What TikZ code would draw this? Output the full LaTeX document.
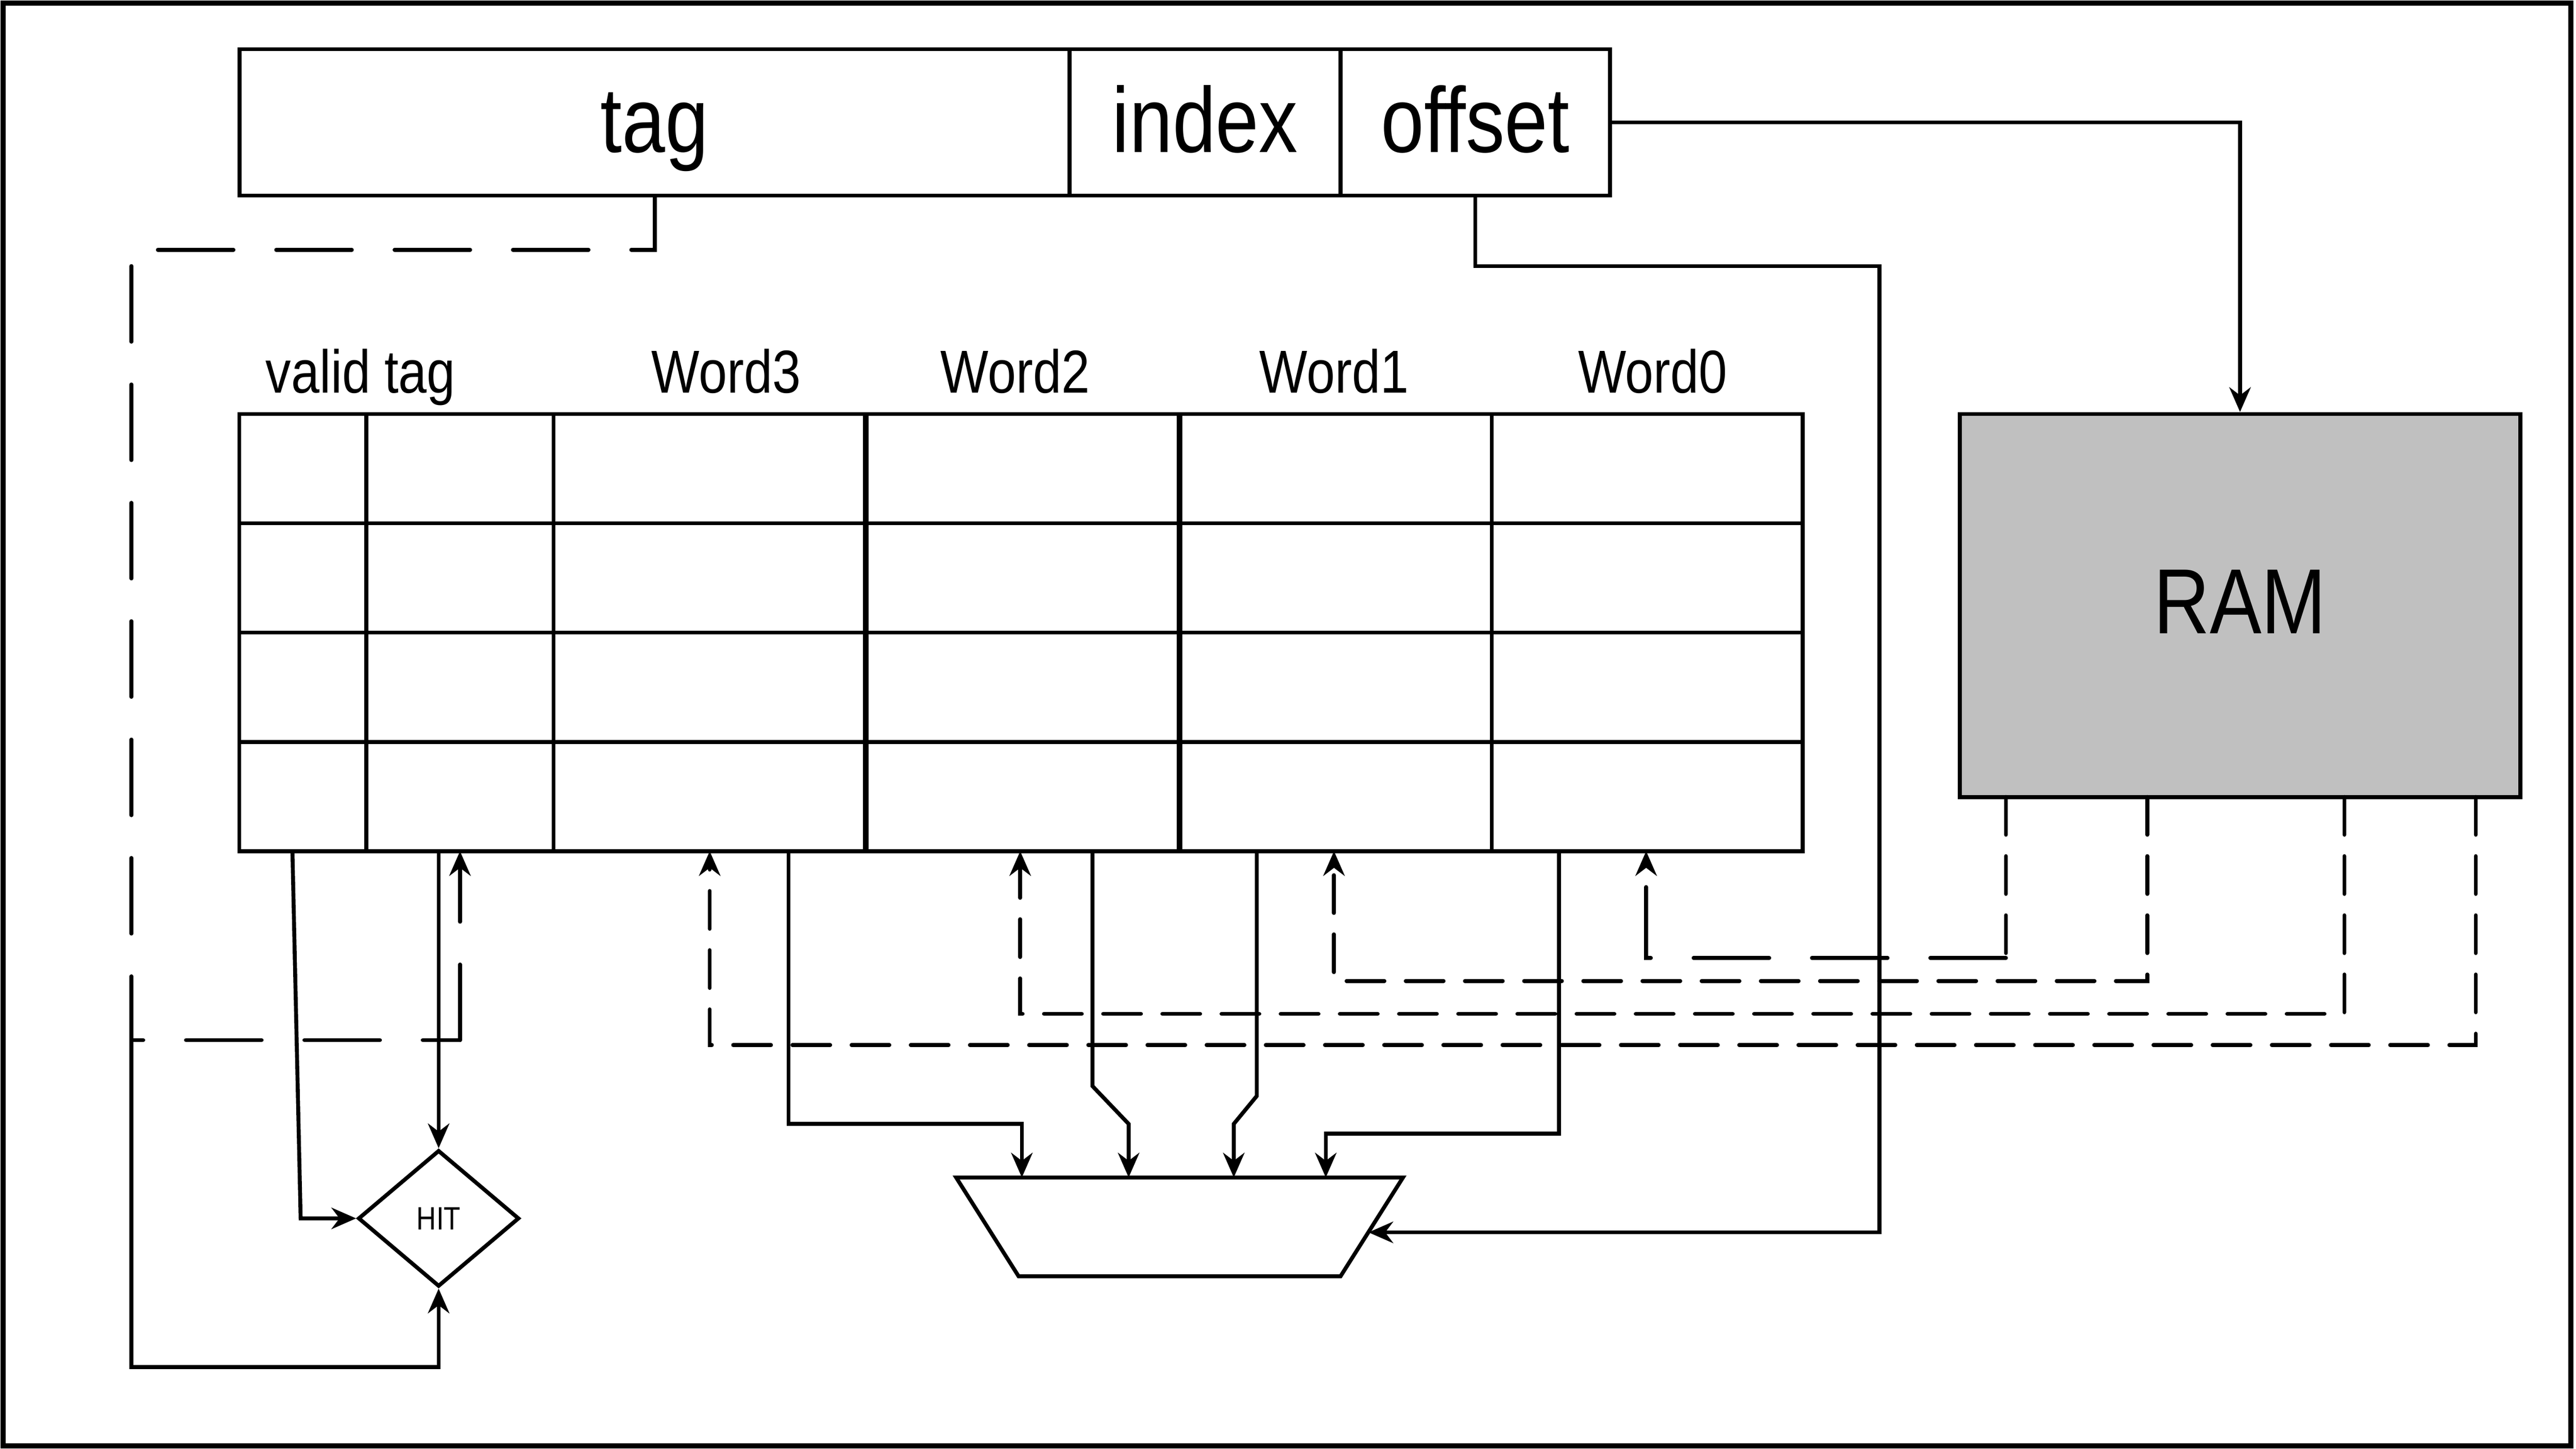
\documentclass[tikz,border=0pt]{standalone}
\usepackage{fontspec}
\newfontfamily\narrowsans{Liberation Sans}[FakeStretch=0.84]
\usetikzlibrary{arrows.meta, shapes.geometric}
\definecolor{ramgray}{RGB}{192,192,192}

\begin{document}
\begin{tikzpicture}[x = 0.01cm, y = -0.01cm, line width = 0.68pt,
	cell/.style = {draw, inner sep = 0pt, minimum height = 0.89cm, text height = 0.47cm, text depth = 0.11cm, font = \narrowsans\fontsize{16}{19}\selectfont},
	colname/.style = {anchor = base, inner sep = 0pt, font = \narrowsans\fontsize{10.5}{12}\selectfont},
	arr/.style = {-{Stealth[length = 0.15cm, width = 0.13cm]}},
	bigdash/.style = {dash pattern = on 0.46cm off 0.26cm, line cap = round},
	smalldash/.style = {dash pattern = on 0.23cm off 0.13cm, line cap = round}]
	\useasboundingbox (0, 0) rectangle (1568, 881.75);
	\draw[line width = 0.9pt] (2, 2) rectangle (1565, 880);
	
	\node[cell, minimum width = 5.05cm] (tag) at (398.5, 74.5) {tag};
	\node[cell, minimum width = 1.65cm] (index) at (733.5, 74.5) {index};
	\node[cell, minimum width = 1.64cm] (offset) at (898, 74.5) {offset};
	
	\node[draw, inner sep = 0pt, minimum width = 9.51cm, minimum height = 2.66cm] (cache) at (621.5, 385) {};
	\foreach \y in {318.5, 385, 451.5}
	\draw (146, \y) -- (1097, \y);
	\foreach \x in {223, 337, 908}
	\draw (\x, 252) -- (\x, 518);
	\foreach \x in {527, 718}
	\draw[line width = 1.05pt] (\x, 252) -- (\x, 518);
	
	\node[colname] (hvalid) at (219.5, 239) {valid tag};
	\node[colname] (hword3) at (442, 239) {Word3};
	\node[colname] (hword2) at (618, 239) {Word2};
	\node[colname] (hword1) at (812, 239) {Word1};
	\node[colname] (hword0) at (1006, 239) {Word0};
	
	\node[draw, fill = ramgray, inner sep = 0pt, minimum width = 3.41cm, minimum height = 2.33cm, text height = 0.4cm, text depth = 0.06cm, font = \narrowsans\fontsize{16}{19}\selectfont] (ram) at (1363.5, 368.5) {RAM};
	
	\node[draw, diamond, aspect = 1.18, inner sep = 0pt, minimum width = 0.98cm, minimum height = 0.83cm, font = \narrowsans\fontsize{5.6}{6}\selectfont] (hit) at (267, 741.5) {HIT};
	
	\draw (582, 716.6) -- (854, 716.6) -- (816, 776.7) -- (620, 776.7) -- cycle;
	\coordinate (mux3) at (622, 716.6);
	\coordinate (mux2) at (687, 716.6);
	\coordinate (mux1) at (751, 716.6);
	\coordinate (mux0) at (807, 716.6);
	\coordinate (muxsel) at (833, 750);
	
	\coordinate (tagw) at (280, 518);
	\coordinate (w3) at (432, 518);
	\coordinate (w2) at (621, 518);
	\coordinate (w1) at (812, 518);
	\coordinate (w0) at (1002, 518);
	\coordinate (split) at (80, 633);
	
	\draw[arr] (offset.east) -| (ram.north);
	\draw[arr] (offset.south) |- (1144, 162) -- (1144, 750) -- (muxsel);
	
	\draw[bigdash] (tag.south) |- (80, 152) -- (split) -- (280, 633);
	\draw[bigdash, arr] (280, 633) -- (tagw);
	\draw[arr] (split) |- (267, 832) -- (hit.south);
	\draw[arr] (178, 518) -- (183, 741.5) -- (hit.west);
	\draw[arr] (hit.north |- cache.south) -- (hit.north);
	
	\draw[arr] (480, 518) |- (622, 684) -- (mux3);
	\draw[arr] (665, 518) -- (665, 661) -- (687, 684) -- (mux2);
	\draw[arr] (765, 518) -- (765, 667) -- (751, 684) -- (mux1);
	\draw[arr] (949, 518) |- (807, 690) -- (mux0);
	
	\draw[smalldash] (1221, 485) -- (1221, 583);
	\draw[bigdash, arr] (1221, 583) -| (w0);
	\draw[smalldash, arr] (1307, 485) |- (812, 597) -- (w1);
	\draw[smalldash, arr] (1427, 485) |- (621, 617) -- (w2);
	\draw[smalldash, arr] (1507, 485) |- (432, 636) -- (w3);
\end{tikzpicture}
\end{document}
